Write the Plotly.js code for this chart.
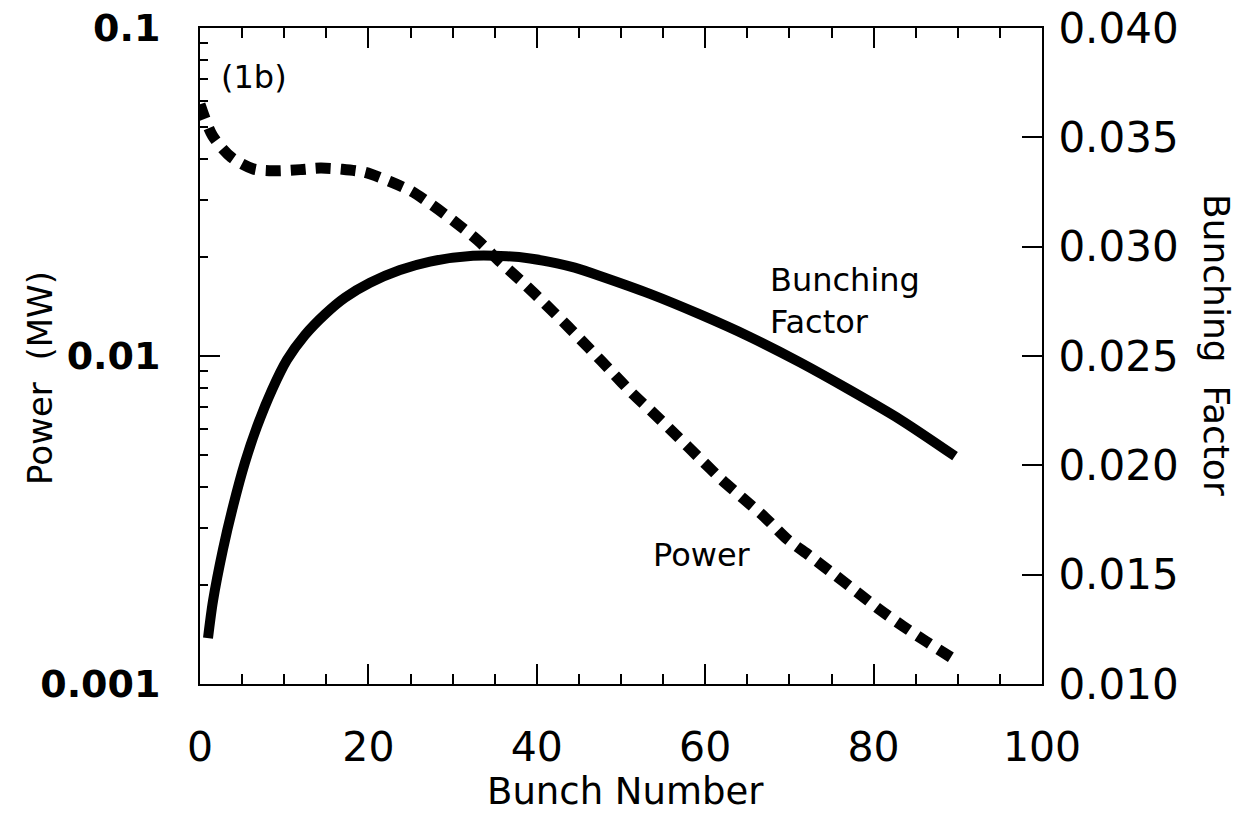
<!DOCTYPE html>
<html>
<head>
<meta charset="utf-8">
<script src="https://cdn.plot.ly/plotly-3.0.1.min.js"></script>
<style>
html, body { margin: 0; padding: 0; background: #fff; }
#chart { width: 1251px; height: 813px; }
</style>
</head>
<body>
<div id="chart"></div>
<script>
// ---- data ----
const bunchX = [0.95, 1.54, 2.73, 3.92, 5.34, 6.77, 8.55, 10.33, 12.47, 14.85, 17.22, 20.19, 23.75, 27.32, 32.42, 36.46, 39.2, 42.4, 44.5, 47.5, 53.44, 59.38, 65.32, 71.26, 77.2, 83.14, 89.67];
const bunchingFactor = [0.01210, 0.01379, 0.01616, 0.01812, 0.02013, 0.02177, 0.02345, 0.02482, 0.02596, 0.02691, 0.02767, 0.02835, 0.02893, 0.02932, 0.02958, 0.02956, 0.02946, 0.02924, 0.02904, 0.02866, 0.02784, 0.02690, 0.02587, 0.02471, 0.02344, 0.02210, 0.02042];

const powerX = [0, 1.5, 3.7, 6.3, 8.9, 11.9, 14.3, 16.9, 19.6, 22.6, 25.1, 27.7, 30.3, 33.0, 35.7, 38.4, 41.0, 43.7, 46.3, 48.9, 51.3, 53.9, 56.7, 59.4, 61.9, 64.5, 67.1, 69.7, 72.4, 75.3, 78.0, 80.8, 83.5, 86.2, 90];
const powerMW = [0.0585, 0.0469, 0.0404, 0.0372, 0.0367, 0.0370, 0.0374, 0.0371, 0.0363, 0.0340, 0.0318, 0.0287, 0.0256, 0.0225, 0.0193, 0.0167, 0.0144, 0.0123, 0.0105, 0.00895, 0.00771, 0.00668, 0.00569, 0.00486, 0.00421, 0.00368, 0.00322, 0.00277, 0.00246, 0.00216, 0.00191, 0.00168, 0.00150, 0.00135, 0.00117];

const xMajorTicks = [0, 20, 40, 60, 80, 100];
const xMinorTicks = [5, 10, 15, 25, 30, 35, 45, 50, 55, 65, 70, 75, 85, 90, 95];
const powerTicks = [0.001, 0.01, 0.1];
const powerTickText = ['0.001', '0.01', '0.1'];
const powerMinorTicks = [0.002, 0.003, 0.004, 0.005, 0.006, 0.007, 0.008, 0.009,
                         0.02, 0.03, 0.04, 0.05, 0.06, 0.07, 0.08, 0.09];
const bunchTicks = [0.010, 0.015, 0.020, 0.025, 0.030, 0.035, 0.040];
const bunchTickText = ['0.010', '0.015', '0.020', '0.025', '0.030', '0.035', '0.040'];

// ---- layout constants ----
const FONT = 'DejaVu Sans, Liberation Sans, Arial, sans-serif';
const W = 1251, H = 813;
const M = { l: 200, r: 209, t: 28, b: 129 };
const PW = W - M.l - M.r, PH = H - M.t - M.b;
const px = (x) => (x - M.l) / PW;
const py = (y) => (H - M.b - y) / PH;

const traces = [
  {
    x: bunchX, y: bunchingFactor, yaxis: 'y2', type: 'scatter', mode: 'lines',
    line: { color: '#000', width: 10, shape: 'spline', smoothing: 0.8 },
    hoverinfo: 'skip', showlegend: false
  },
  {
    x: powerX, y: powerMW, yaxis: 'y', type: 'scatter', mode: 'lines',
    line: { color: '#000', width: 11, dash: '15px,10px', shape: 'spline', smoothing: 0.8 },
    hoverinfo: 'skip', showlegend: false
  }
];

const layout = {
  width: W, height: H,
  margin: M,
  paper_bgcolor: '#fff', plot_bgcolor: '#fff',
  font: { family: FONT, color: '#000' },
  showlegend: false,
  xaxis: {
    range: [0, 100], showgrid: false, zeroline: false,
    showline: true, linecolor: '#000', linewidth: 2, mirror: 'ticks',
    ticks: 'inside', ticklen: 20, tickwidth: 2, tickcolor: '#000',
    tickvals: xMajorTicks, ticktext: xMajorTicks.map(String),
    tickfont: { family: FONT, size: 41, color: '#000' },
    ticklabelstandoff: 26,
    minor: { tickvals: xMinorTicks, ticks: 'inside', ticklen: 10, tickwidth: 2, tickcolor: '#000', showgrid: false }
  },
  yaxis: {
    type: 'log', range: [-3, -1], showgrid: false, zeroline: false,
    showline: true, linecolor: '#000', linewidth: 2,
    ticks: 'inside', ticklen: 20, tickwidth: 2, tickcolor: '#000',
    tickvals: powerTicks, ticktext: powerTickText,
    tickfont: { family: FONT, size: 38, color: '#000', weight: 'bold' },
    ticklabelstandoff: 30,
    minor: { tickvals: powerMinorTicks, ticks: 'inside', ticklen: 8, tickwidth: 2, tickcolor: '#000', showgrid: false }
  },
  yaxis2: {
    overlaying: 'y', side: 'right', range: [0.010, 0.040],
    showgrid: false, zeroline: false,
    showline: true, linecolor: '#000', linewidth: 2,
    ticks: 'inside', ticklen: 20, tickwidth: 2, tickcolor: '#000',
    tickvals: bunchTicks, ticktext: bunchTickText,
    tickfont: { family: FONT, size: 42, color: '#000' },
    ticklabelstandoff: 6
  },
  annotations: [
    { text: 'Bunch Number', xref: 'paper', yref: 'paper', x: px(625), y: py(791),
      xanchor: 'center', yanchor: 'middle', showarrow: false,
      font: { family: FONT, size: 37, color: '#000' } },
    { text: 'Power\u00a0 (MW)', xref: 'paper', yref: 'paper', x: px(40), y: py(378),
      xanchor: 'center', yanchor: 'middle', showarrow: false, textangle: -90,
      font: { family: FONT, size: 34, color: '#000' } },
    { text: 'Bunching\u00a0 Factor', xref: 'paper', yref: 'paper', x: px(1217), y: py(345),
      xanchor: 'center', yanchor: 'middle', showarrow: false, textangle: 90,
      font: { family: FONT, size: 36, color: '#000' } },
    { text: '(1b)', xref: 'paper', yref: 'paper', x: px(254), y: py(77),
      xanchor: 'center', yanchor: 'middle', showarrow: false,
      font: { family: FONT, size: 32, color: '#000' } },
    { text: 'Bunching<br>Factor', xref: 'paper', yref: 'paper', x: px(768), y: py(301),
      xanchor: 'left', yanchor: 'middle', align: 'left', showarrow: false,
      font: { family: FONT, size: 32, color: '#000' } },
    { text: 'Power', xref: 'paper', yref: 'paper', x: px(702), y: py(555),
      xanchor: 'center', yanchor: 'middle', showarrow: false,
      font: { family: FONT, size: 32, color: '#000' } }
  ]
};

Plotly.newPlot('chart', traces, layout, { staticPlot: true, displayModeBar: false });
</script>
</body>
</html>
